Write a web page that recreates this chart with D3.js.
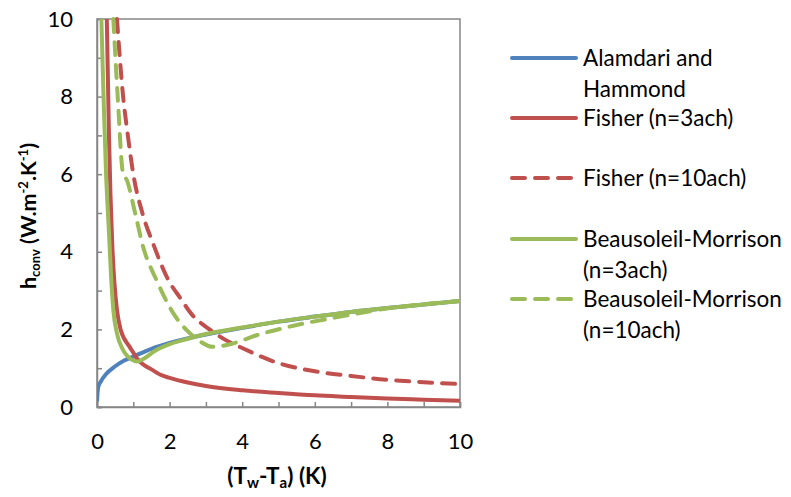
<!DOCTYPE html>
<html><head><meta charset="utf-8">
<script src="https://cdn.jsdelivr.net/npm/d3@7/dist/d3.min.js"></script>
<style>body{margin:0;background:#fff}svg{display:block}text{font-family:Lato,"Open Sans",sans-serif}</style>
</head><body><svg id="c" width="791" height="497"></svg>
<script>
// Data
const alamdariX = [0,0.03,0.1,0.25,0.5,0.75,1,1.5,2,3,4,5,6,7,8,9,10];
const alamdariY = [0.14,0.5,0.65,0.85,1.05,1.2,1.3,1.5,1.65,1.87,2.04,2.2,2.33,2.45,2.55,2.64,2.73];
const fisher3X = [0.27,0.3,0.33,0.37,0.42,0.48,0.55,0.65,0.9,1.0,1.1,1.3,1.5,1.75,2,2.5,3,4,5,6,7,8,9,10];
const fisher3Y = [10,8.5,7,5.5,4.2,3.2,2.5,2.0,1.55,1.4,1.25,1.08,0.97,0.83,0.75,0.63,0.54,0.43,0.36,0.3,0.26,0.22,0.19,0.16];
const fisher10X = [0.55,0.72,0.85,1.0,1.25,1.55,1.95,2.3,2.6,3.1,3.5,4,5,6,7,8,9,10];
const fisher10Y = [10,8,7,6,5,4.2,3.3,2.8,2.4,2.0,1.75,1.52,1.13,0.92,0.8,0.7,0.64,0.59];
const bm3X = [0.12,0.18,0.25,0.33,0.38,0.45,0.55,0.7,0.85,1.0,1.1,1.3,1.6,2,2.5,3,4,5,6,7,8,9,10];
const bm3Y = [10,8,6,4.5,3.5,2.5,1.9,1.5,1.3,1.2,1.17,1.25,1.45,1.62,1.76,1.88,2.05,2.2,2.33,2.45,2.55,2.64,2.73];
const bm10X = [0.45,0.57,0.72,0.82,1.05,1.27,1.64,2.1,2.47,2.74,3.2,3.75,4.4,5.3,6.7,8.07,9,10];
const bm10Y = [10,8,6,5.85,5.0,4.13,3.27,2.42,1.98,1.76,1.55,1.64,1.85,2.07,2.33,2.55,2.65,2.73];
const xTicks = [0,2,4,6,8,10];
const yTicks = [0,2,4,6,8,10];
const seriesNames = ["Alamdari and Hammond","Fisher (n=3ach)","Fisher (n=10ach)","Beausoleil-Morrison (n=3ach)","Beausoleil-Morrison (n=10ach)"];

const series = [
  {name:seriesNames[0], xs:alamdariX, ys:alamdariY, color:"#4F81BD", dash:null, lines:["Alamdari and","Hammond"]},
  {name:seriesNames[1], xs:fisher3X, ys:fisher3Y, color:"#C0504D", dash:null, lines:["Fisher (n=3ach)"]},
  {name:seriesNames[2], xs:fisher10X, ys:fisher10Y, color:"#C0504D", dash:"13,10", lines:["Fisher (n=10ach)"]},
  {name:seriesNames[3], xs:bm3X, ys:bm3Y, color:"#9BBB59", dash:null, lines:["Beausoleil-Morrison","(n=3ach)"]},
  {name:seriesNames[4], xs:bm10X, ys:bm10Y, color:"#9BBB59", dash:"13,10", lines:["Beausoleil-Morrison","(n=10ach)"]}
];

const svg = d3.select("#c");
const L=97, R=460, T=19, B=407;
const x = d3.scaleLinear().domain([0,10]).range([L,R]);
const y = d3.scaleLinear().domain([0,10]).range([B,T]);
const axisColor = "#868686";

svg.append("defs").append("clipPath").attr("id","clip")
  .append("rect").attr("x",L).attr("y",T-2).attr("width",R-L).attr("height",B-T+2);

// frame
svg.append("rect").attr("x",L).attr("y",T).attr("width",R-L).attr("height",B-T)
  .attr("fill","none").attr("stroke",axisColor).attr("stroke-width",1.5);

// axes (inside ticks every 1 unit, labels every 2)
const xAxis = d3.axisBottom(x).tickValues(d3.range(0,11,1)).tickSize(-5)
  .tickFormat(d => xTicks.includes(d) ? d : "");
const gx = svg.append("g").attr("transform",`translate(0,${B})`).call(xAxis);
gx.select(".domain").attr("stroke",axisColor).attr("stroke-width",1.5);
gx.selectAll(".tick line").attr("stroke",axisColor).attr("stroke-width",1.5);
gx.selectAll(".tick text").attr("font-size",22).attr("fill","#000").attr("y",26).attr("dy","0.71em");

const yAxis = d3.axisLeft(y).tickValues(d3.range(0,11,1)).tickSize(-5)
  .tickFormat(d => yTicks.includes(d) ? d : "");
const gy = svg.append("g").attr("transform",`translate(${L},0)`).call(yAxis);
gy.select(".domain").attr("stroke",axisColor).attr("stroke-width",1.5);
gy.selectAll(".tick line").attr("stroke",axisColor).attr("stroke-width",1.5);
gy.selectAll(".tick text").attr("font-size",22).attr("fill","#000").attr("x",-24);

// lines
const plot = svg.append("g").attr("clip-path","url(#clip)");
const line = d3.line().x(d=>x(d[0])).y(d=>y(d[1])).curve(d3.curveMonotoneX);
series.forEach(s => {
  const pts = s.xs.map((v,i)=>[v,s.ys[i]]);
  plot.append("path").datum(pts).attr("d",line)
    .attr("fill","none").attr("stroke",s.color).attr("stroke-width",4)
    .attr("stroke-linecap", s.dash ? "round":"butt").attr("stroke-linejoin","round")
    .attr("stroke-dasharray", s.dash);
});

// legend
const legY = [58,118,178,239,299];
const lg = svg.append("g");
series.forEach((s,i) => {
  lg.append("line").attr("x1",512).attr("x2",576).attr("y1",legY[i]).attr("y2",legY[i])
    .attr("stroke",s.color).attr("stroke-width",4).attr("stroke-linecap","round")
    .attr("stroke-dasharray", s.dash ? "13,10" : null);
  s.lines.forEach((t,j) => {
    lg.append("text").attr("x",583).attr("y",legY[i]+j*31).attr("dy","0.35em")
      .attr("font-size",22.5).attr("fill","#000").text(t);
  });
});

// x title
const xt = svg.append("text").attr("x",277).attr("y",484).attr("text-anchor","middle")
  .attr("font-size",22.5).attr("font-weight","bold").attr("fill","#000");
xt.append("tspan").text("(T");
xt.append("tspan").attr("font-size",15).attr("dy",4).text("w");
xt.append("tspan").attr("dy",-4).text("-T");
xt.append("tspan").attr("font-size",15).attr("dy",4).text("a");
xt.append("tspan").attr("dy",-4).text(") (K)");

// y title
const yt = svg.append("text").attr("transform","translate(36,216) rotate(-90)").attr("text-anchor","middle")
  .attr("font-size",21.5).attr("font-weight","bold").attr("fill","#000");
yt.append("tspan").text("h");
yt.append("tspan").attr("font-size",13).attr("dy",4).text("conv");
yt.append("tspan").attr("dy",-4).text(" (W.m");
yt.append("tspan").attr("font-size",13).attr("dy",-8).text("-2");
yt.append("tspan").attr("dy",8).text(".K");
yt.append("tspan").attr("font-size",13).attr("dy",-8).text("-1");
yt.append("tspan").attr("dy",8).text(")");
</script></body></html>
